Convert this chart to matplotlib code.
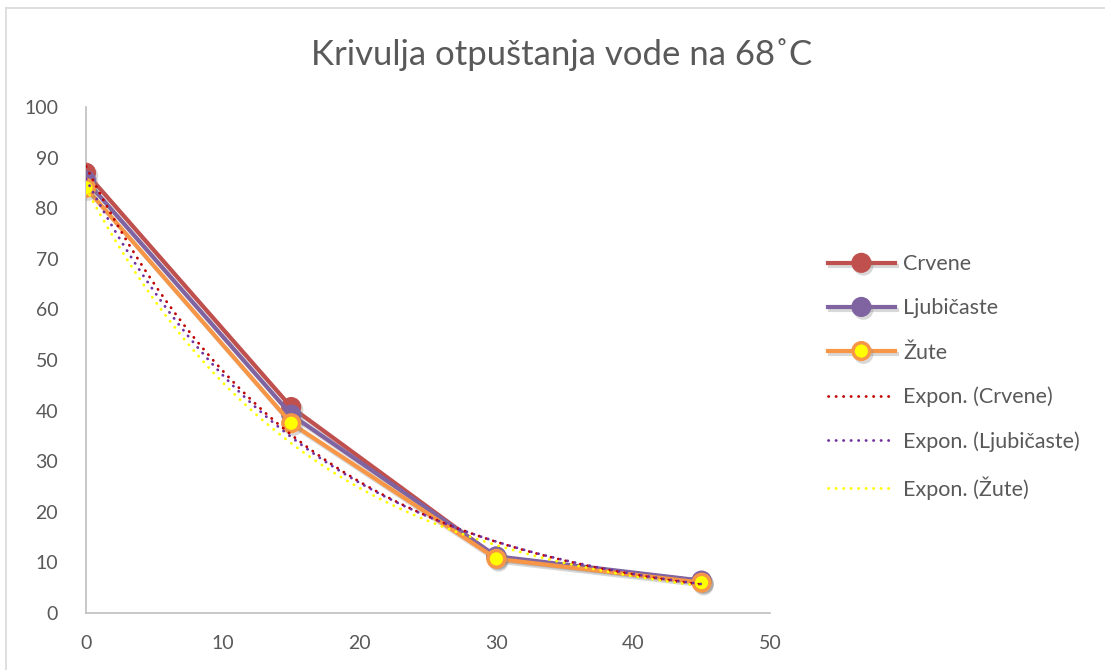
import matplotlib.pyplot as plt
import matplotlib.patheffects as pe
from matplotlib.lines import Line2D
import numpy as np

plt.rcParams['font.family'] = ['Lato', 'DejaVu Sans']

TEXT = "#595959"
AXIS = "#BFBFBF"

# minutes
time = [0, 15, 30, 45]
crvene = [87.0, 40.7, 11.0, 6.3]
ljubicaste = [85.5, 39.2, 11.2, 6.4]
zute = [84.0, 37.5, 10.7, 6.0]

labels = ["Crvene", "Ljubičaste", "Žute"]
line_colors = ["#C0504D", "#8064A2", "#F79646"]
face_colors = ["#C0504D", "#8064A2", "#FFFF00"]
trend_colors = ["#C00000", "#7030A0", "#FFFF00"]

x_ticks = [0, 10, 20, 30, 40, 50]
y_ticks = [0, 10, 20, 30, 40, 50, 60, 70, 80, 90, 100]

W, H = 1105, 670
fig = plt.figure(figsize=(W / 100, H / 100), dpi=100)
ax = fig.add_axes([86 / W, 1 - 613 / H, (770 - 86) / W, (613 - 107) / H])

shadow = [pe.SimpleLineShadow(offset=(1.5, -2), shadow_color="#808080", alpha=0.3), pe.Normal()]

series = [crvene, ljubicaste, zute]
handles = []
for vals, lab, lc, fc in zip(series, labels, line_colors, face_colors):
    h, = ax.plot(time, vals, color=lc, lw=3, marker="o", ms=12,
                 mfc=fc, mec=lc, mew=2.5, label=lab, path_effects=shadow, zorder=3)
    handles.append(h)

# exponential trendlines, fitted like Excel does (least squares on ln y)
xs = np.linspace(time[0], time[-1], 200)
for vals, lab, tc in zip(series, labels, trend_colors):
    b, lna = np.polyfit(time, np.log(vals), 1)
    h, = ax.plot(xs, np.exp(lna) * np.exp(b * xs), color=tc, lw=2,
                 linestyle=(0, (0.1, 2.6)), dash_capstyle="round",
                 label=f"Expon. ({lab})", zorder=4)
    handles.append(h)

ax.set_xlim(0, 50)
ax.set_ylim(0, 100)
ax.set_xticks(x_ticks)
ax.set_yticks(y_ticks)
ax.tick_params(length=0, labelsize=14, colors=TEXT)
ax.tick_params(axis="y", pad=20)
ax.tick_params(axis="x", pad=16)
for s in ["top", "right"]:
    ax.spines[s].set_visible(False)
for s in ["left", "bottom"]:
    ax.spines[s].set_color(AXIS)
    ax.spines[s].set_linewidth(1.2)

fig.text(562 / W, 1 - 55 / H, "Krivulja otpuštanja vode na 68˚C", ha="center", va="center",
         fontsize=25, color=TEXT)

leg = fig.legend(handles=handles, loc="center left", bbox_to_anchor=(828 / W, 1 - 377 / H),
                 frameon=False, fontsize=15.5, handlelength=3.1, labelspacing=1.12,
                 borderpad=0, borderaxespad=0, handletextpad=0.4)
for t in leg.get_texts():
    t.set_color(TEXT)

# chart area border (top and left visible)
fig.add_artist(Line2D([6 / W, 1], [1 - 8 / H, 1 - 8 / H], color="#D9D9D9", lw=1.2))
fig.add_artist(Line2D([6 / W, 6 / W], [0, 1 - 8 / H], color="#D9D9D9", lw=1.2))

fig.savefig("out.png", dpi=100)
